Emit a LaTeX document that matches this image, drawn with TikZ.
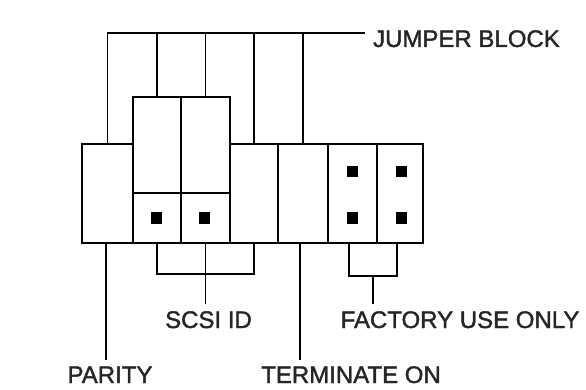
\documentclass[tikz,border=0pt]{standalone}
\usepackage{fontspec}
\setmainfont{Liberation Sans}
\newfontfamily\lblfont{Liberation Sans}[FakeBold=1.6]
\usetikzlibrary{calc}
\begin{document}
\begin{tikzpicture}[x=1pt,y=-1pt,
  cell/.style={draw, line width=2.4pt, inner sep=0pt, rectangle},
  pin/.style={fill=black, inner sep=0pt, minimum size=11pt, rectangle},
  conn/.style={line width=1.8pt},
  lbl/.style={inner sep=0pt, text=black!85, font=\lblfont\fontsize{24}{28}\selectfont, anchor=base}]
\useasboundingbox (0,0) rectangle (586,390);
% columns of the jumper block
\node[cell, minimum width=51pt, minimum height=99pt] (c1) at (107.5,193.5) {};
\node[cell, minimum width=48pt, minimum height=96pt] (s1top) at (157,145) {};
\node[cell, minimum width=49pt, minimum height=96pt] (s2top) at (205.5,145) {};
\node[cell, minimum width=48pt, minimum height=50pt] (s1bot) at (157,218) {};
\node[cell, minimum width=49pt, minimum height=50pt] (s2bot) at (205.5,218) {};
\node[cell, minimum width=48pt, minimum height=99pt] (c4) at (254,193.5) {};
\node[cell, minimum width=50pt, minimum height=99pt] (c5) at (303,193.5) {};
\node[cell, minimum width=49pt, minimum height=99pt] (c6) at (352.5,193.5) {};
\node[cell, minimum width=46pt, minimum height=99pt] (c7) at (400,193.5) {};
% pins
\node[pin] (p1) at (156,218) {};
\node[pin] (p2) at (204,218) {};
\node[pin] (p3) at (352,172) {};
\node[pin] (p4) at (401,172) {};
\node[pin] (p5) at (352,218) {};
\node[pin] (p6) at (401,218) {};
% labels
\node[lbl] (jb) at (466.5,47) {JUMPER BLOCK};
\node[lbl] (par) at (110,383) {PARITY};
\node[lbl] (term) at (351,383) {TERMINATE ON};
\node[lbl] (scsi) at (208.5,328) {SCSI ID};
\node[lbl] (fac) at (460,328) {FACTORY USE ONLY};
\coordinate (parT) at ([yshift=6pt]par.north);
\coordinate (termT) at ([yshift=6pt]term.north);
\coordinate (scsiT) at ([yshift=7pt]scsi.north);
\coordinate (facT) at ([yshift=7pt]fac.north);
% top leader
\coordinate (tl) at (107,33);
\coordinate (tr) at (365,33);
\draw[conn] (c1.north) -- (c1.north |- tl) -- (tr);
\draw[conn] (s1top.north) -- (s1top.north |- tl);
\draw[conn] (s2top.north) -- (s2top.north |- tl);
\draw[conn] (c4.north) -- (c4.north |- tl);
\draw[conn] (c5.north) -- (c5.north |- tl);
% parity
\coordinate (c1b) at ([xshift=-1.5pt]c1.south);
\draw[conn] (c1b) -- (c1b |- parT);
% SCSI ID bracket
\coordinate (sb) at (0,274);
\draw[conn] (s1bot.south) -- (s1bot.south |- sb) -- (c4.south |- sb) -- (c4.south);
\draw[conn] (s2bot.south) -- (s2bot.south |- scsiT);
% terminate on
\coordinate (c5b) at ([xshift=-3pt]c5.south);
\draw[conn] (c5b) -- (c5b |- termT);
% factory bracket
\coordinate (fb) at (0,276);
\coordinate (c6b) at ([xshift=-3.5pt]c6.south);
\coordinate (c7b) at ([xshift=-3pt]c7.south);
\draw[conn] (c6b) -- (c6b |- fb) -- (c7b |- fb) -- (c7b);
\coordinate (fm) at ($(c6b |- fb)!0.5!(c7b |- fb)$);
\draw[conn] (fm) -- (fm |- facT);
\end{tikzpicture}
\end{document}
